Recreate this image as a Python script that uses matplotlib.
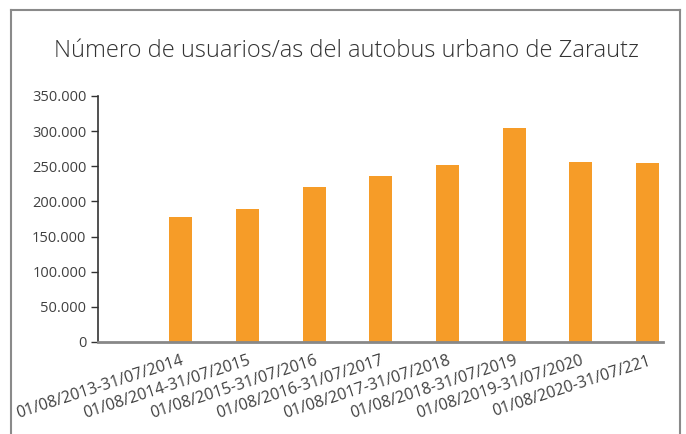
import matplotlib.pyplot as plt
from matplotlib.lines import Line2D
from matplotlib.ticker import FuncFormatter

periods = [
    "01/08/2013-31/07/2014",
    "01/08/2014-31/07/2015",
    "01/08/2015-31/07/2016",
    "01/08/2016-31/07/2017",
    "01/08/2017-31/07/2018",
    "01/08/2018-31/07/2019",
    "01/08/2019-31/07/2020",
    "01/08/2020-31/07/221",
]
usuarios = [178000, 189000, 220500, 236000, 252000, 304500, 256000, 255000]
yticks = [0, 50000, 100000, 150000, 200000, 250000, 300000, 350000]

plt.rcParams["font.family"] = ["Open Sans", "DejaVu Sans"]

fig = plt.figure(figsize=(6.86, 4.34), dpi=100)
ax = fig.add_axes([0.1422, 0.212, 0.824, 0.567])

x = list(range(len(periods)))
ax.bar(x, usuarios, width=0.345, color="#F69C28")

ax.set_xlim(-1.25, 7.23)
ax.set_ylim(0, 350000)
ax.set_yticks(yticks)
ax.yaxis.set_major_formatter(FuncFormatter(lambda v, p: f"{int(v):,}".replace(",", ".")))
ax.tick_params(axis="y", length=5, width=1, color="#333333", labelcolor="#404040", labelsize=10.5, pad=3)

ax.set_xticks(x)
ax.set_xticklabels(periods, rotation=18, ha="right", rotation_mode="anchor",
                   color="#404040", fontsize=11.5)
ax.tick_params(axis="x", length=0, pad=8)

for s in ["top", "right"]:
    ax.spines[s].set_visible(False)
ax.spines["left"].set_color("#333333")
ax.spines["left"].set_linewidth(1.2)
ax.spines["bottom"].set_color("#888888")
ax.spines["bottom"].set_linewidth(2)

fig.text(0.505, 1 - 57 / 434, "Número de usuarios/as del autobus urbano de Zarautz",
         ha="center", va="baseline", fontsize=17, fontweight="light", color="#333333")

# frame around the chart (bottom edge is outside the picture)
x0, x1 = 11 / 686, 680 / 686
y0 = 1 - 10 / 434
for xs, ys in [([x0, x0], [0, y0]), ([x0, x1], [y0, y0]), ([x1, x1], [y0, 0])]:
    fig.add_artist(Line2D(xs, ys, color="#8a8a8a", linewidth=1.5))

fig.savefig("out.png", dpi=100)
